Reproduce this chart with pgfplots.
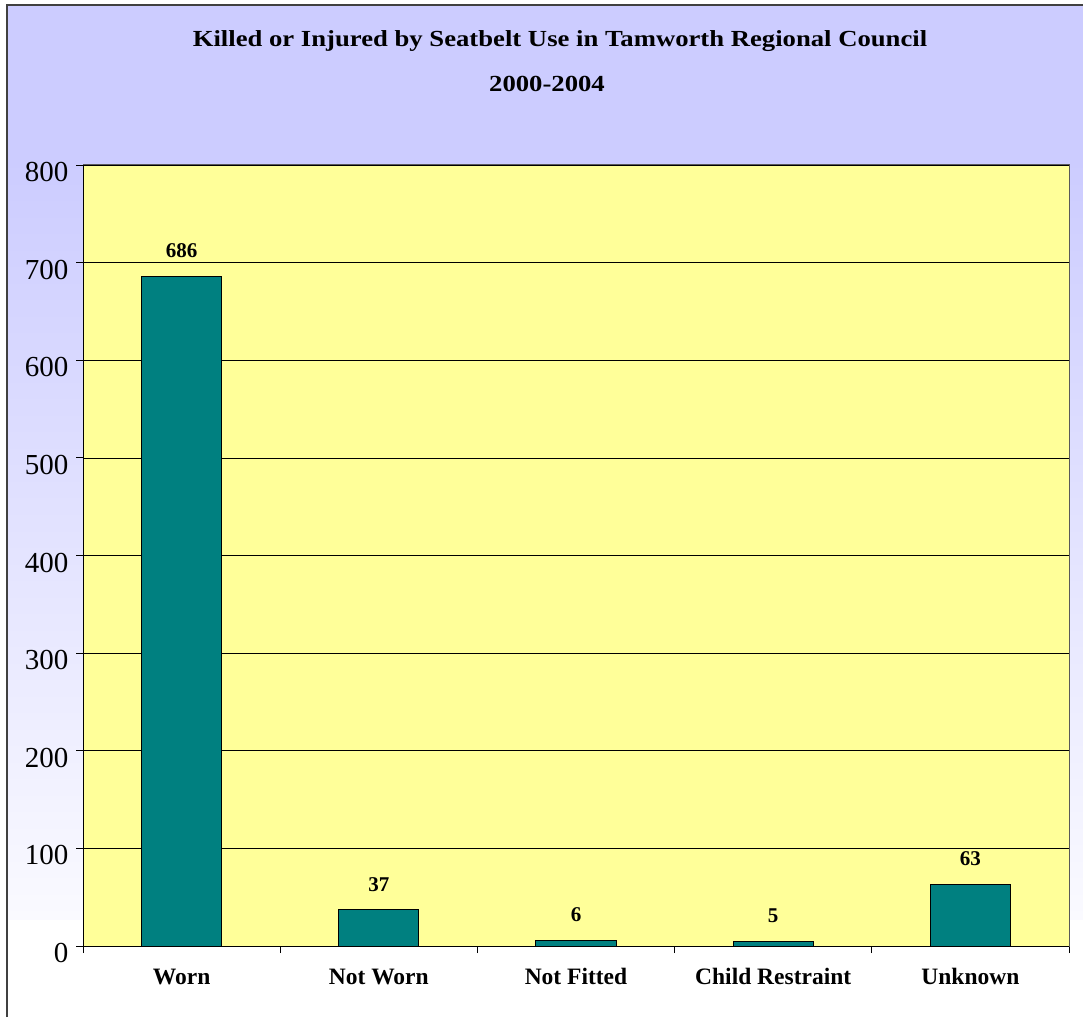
\documentclass[border=0pt]{standalone}
\usepackage{fontspec}
\setmainfont{Liberation Serif}
\usepackage{graphicx}
\usepackage{pgfplots}
\pgfplotsset{compat=1.18}
\definecolor{bgtop}{RGB}{204,204,255}
\definecolor{bgbot}{RGB}{250,250,255}
\definecolor{plotbg}{RGB}{255,255,153}
\definecolor{barteal}{RGB}{0,128,128}
\begin{document}
\begin{tikzpicture}[x=1pt,y=1pt]
\path[use as bounding box] (0,0) rectangle (1083,1017);
\fill[white] (0,0) rectangle (1083,1017);
\fill[bgtop] (7,857) rectangle (1083,1012);
\shade[top color=bgtop, bottom color=bgbot] (7,98) rectangle (1083,857.5);
\draw[line width=2pt, black!75] (7,0) -- (7,1012) -- (1083,1012);
\begin{axis}[
  at={(83pt,71pt)}, anchor=south west,
  scale only axis, width=986pt, height=781pt,
  xmin=-0.5, xmax=4.5, ymin=0, ymax=800,
  axis background/.style={fill=plotbg},
  axis line style={gray!70!black, line width=1pt},
  tick pos=left,
  tick align=outside,
  major tick length=7pt,
  tick style={black, line width=0.8pt},
  ytick={0,100,...,800},
  xtick={-0.5,0.5,...,4.5},
  xticklabels={,,,,,},
  extra x ticks={0,1,2,3,4},
  extra x tick labels={Worn,Not Worn,Not Fitted,Child Restraint,Unknown},
  extra x tick style={major tick length=0pt, tick style={draw=none}, grid=none},
  xticklabel style={font=\fontsize{23.5}{28}\selectfont\bfseries, text height=16pt, text depth=0pt, yshift=-19pt},
  yticklabel style={font=\fontsize{29}{34}\selectfont, yshift=-7pt, xshift=-4pt},
  /pgf/number format/assume math mode=true,
  ymajorgrids,
  major grid style={black, line width=0.7pt},
  ybar, bar width=0.406,
  nodes near coords,
  every node near coord/.append style={font=\fontsize{21}{25}\selectfont\bfseries, inner sep=0pt, anchor=south, yshift=18pt, black},
  after end axis/.code={
    \draw[black, line width=1pt] (rel axis cs:0,1) -- (rel axis cs:0,0) -- (rel axis cs:1,0);
  },
]
\addplot[fill=barteal, draw=black, line width=1pt] coordinates {(0,686) (1,37) (2,6) (3,5) (4,63)};
\end{axis}
\node[font=\fontsize{23}{27}\selectfont\bfseries, anchor=base, inner sep=0pt] at (560,970) {\scalebox{1.16}[1]{Killed or Injured by Seatbelt Use in Tamworth Regional Council}};
\node[font=\fontsize{23}{27}\selectfont\bfseries, anchor=base, inner sep=0pt] at (547,925) {\scalebox{1.16}[1]{2000-2004}};
\end{tikzpicture}
\end{document}
